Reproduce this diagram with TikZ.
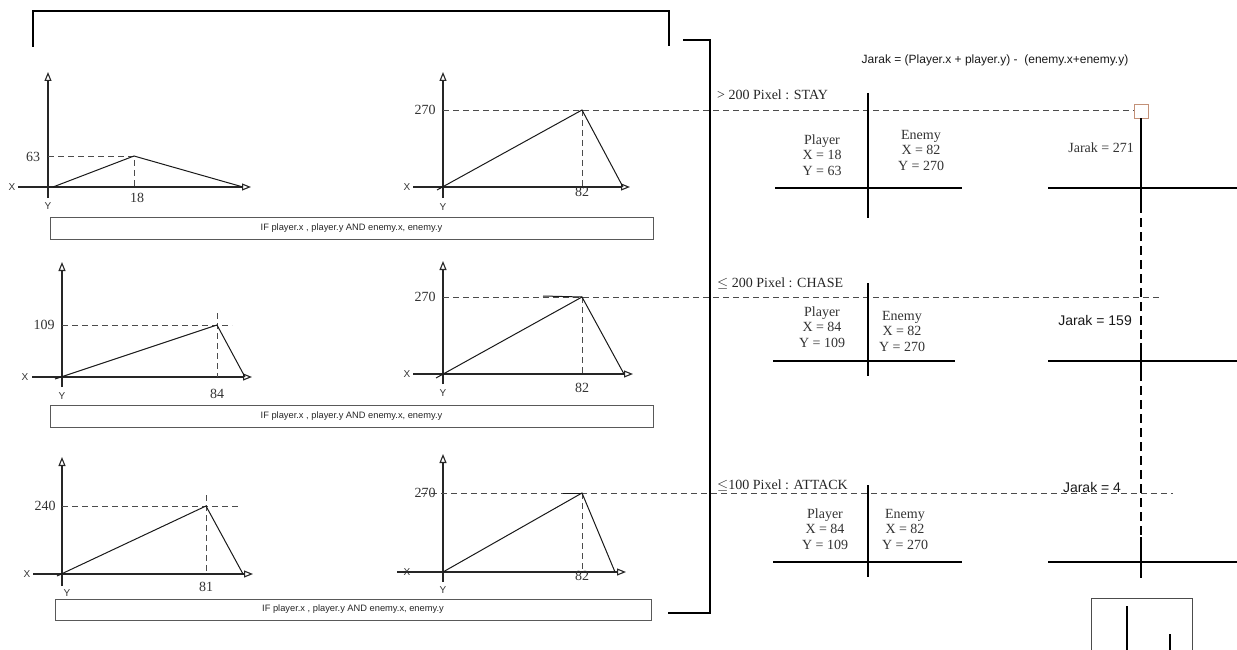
\documentclass[tikz,border=0pt]{standalone}
\usepackage{fontspec}
\setmainfont{Liberation Serif}
\setsansfont{Liberation Sans}
\usetikzlibrary{arrows.meta}
\definecolor{boxedge}{RGB}{195,145,120}
\begin{document}
\begin{tikzpicture}[x=1pt, y=-1pt,
    axis/.style={draw=black!85, line width=1.1pt, -{Triangle[open, length=9pt, width=7pt]}},
    guide/.style={draw=black!70, line width=0.9pt, dash pattern=on 6pt off 4pt},
    plot/.style={draw=black!90, line width=1pt},
    bracket/.style={draw=black, line width=1.8pt},
    tcross/.style={draw=black, line width=2pt},
    axlbl/.style={text=black!80, font=\sffamily\fontsize{10}{11}\selectfont, inner sep=0pt},
    numlbl/.style={text=black!80, font=\fontsize{14}{15}\selectfont, inner sep=0pt},
    condbox/.style={draw=black!65, line width=0.8pt, minimum height=22pt, inner sep=0pt,
        text=black!85, font=\sffamily\fontsize{9.3}{11}\selectfont},
    vals/.style={text=black!80, align=center, inner sep=0pt, font=\fontsize{14}{15.5}\selectfont},
    cond/.style={text=black!85, anchor=west, inner sep=0pt, font=\fontsize{14}{16}\selectfont},
    jarak/.style={text=black!90, inner sep=0pt, font=\sffamily\fontsize{14}{16}\selectfont}]
\useasboundingbox (0,0) rectangle (1237,650);

% brackets
\draw[bracket] (33,47) -- (33,11) -- (669,11) -- (669,46);
\draw[bracket] (683,40) -- (710,40) -- (710,613) -- (668,613);

% graph 1: player (18,63)
\coordinate (g1o) at (48,187);
\coordinate (g1p) at (134,156);
\draw[axis] (48,198) -- (48,72);
\draw[axis] (18,187) -- (251,187);
\draw[guide] (g1o |- g1p) -- (g1p) -- (g1p |- g1o);
\draw[plot] (53,187) -- (g1p) -- (243,187);
\node[axlbl] (g1x) at (12,187) {X};
\node[axlbl] (g1y) at (48,206) {Y};
\node[numlbl] (g1v) at (33,157) {63};
\node[numlbl] (g1h) at (137,198) {18};

% graph 2: enemy (82,270)
\coordinate (g2o) at (443,187);
\coordinate (g2p) at (582,110);
\coordinate (stay) at (1134,110);
\draw[axis] (443,198) -- (443,72);
\draw[axis] (413,187) -- (630,187);
\draw[guide] (g2o |- g2p) -- (stay);
\draw[guide] (g2p) -- (g2p |- g2o);
\draw[plot] (437,190) -- (g2p) -- (623,187);
\node[axlbl] (g2x) at (407,187) {X};
\node[axlbl] (g2y) at (443,207) {Y};
\node[numlbl] (g2v) at (425,110) {270};
\node[numlbl] (g2h) at (582,192) {82};

\node[condbox, minimum width=603pt] (if1) at (351.5,228) {IF player.x , player.y AND enemy.x, enemy.y};

% graph 3: player (84,109)
\coordinate (g3o) at (62,377);
\coordinate (g3p) at (217,325);
\draw[axis] (62,387) -- (62,262);
\draw[axis] (32,377) -- (252,377);
\draw[guide] (g3o |- g3p) -- (232,325);
\draw[guide] (217,313) -- (g3p |- g3o);
\draw[plot] (55,379) -- (g3p) -- (245,377);
\node[axlbl] (g3x) at (25,377) {X};
\node[axlbl] (g3y) at (62,396) {Y};
\node[numlbl] (g3v) at (44,325) {109};
\node[numlbl] (g3h) at (217,394) {84};

% graph 4: enemy (82,270)
\coordinate (g4o) at (443,374);
\coordinate (g4p) at (582,297);
\coordinate (chase) at (1160,297);
\draw[axis] (443,384) -- (443,261);
\draw[axis] (413,374) -- (633,374);
\draw[guide] (g4o |- g4p) -- (chase);
\draw[guide] (g4p) -- (g4p |- g4o);
\draw[plot] (543,296) -- (g4p);
\draw[plot] (436,378) -- (g4p) -- (624,374);
\node[axlbl] (g4x) at (407,374) {X};
\node[axlbl] (g4y) at (443,393) {Y};
\node[numlbl] (g4v) at (425,297) {270};
\node[numlbl] (g4h) at (582,388) {82};

\node[condbox, minimum width=603pt] (if2) at (351.5,416.5) {IF player.x , player.y AND enemy.x, enemy.y};

% graph 5: player (81,240)
\coordinate (g5o) at (62,574);
\coordinate (g5p) at (206,506);
\draw[axis] (62,586) -- (62,457);
\draw[axis] (33,574) -- (253,574);
\draw[guide] (g5o |- g5p) -- (238,506);
\draw[guide] (206,495) -- (g5p |- g5o);
\draw[plot] (57,576) -- (g5p) -- (243,574);
\node[axlbl] (g5x) at (27,574) {X};
\node[axlbl] (g5y) at (67,593) {Y};
\node[numlbl] (g5v) at (45,506) {240};
\node[numlbl] (g5h) at (206,587) {81};

% graph 6: enemy (82,270)
\coordinate (g6o) at (443,572);
\coordinate (g6p) at (582,493);
\coordinate (attack) at (1173,493);
\draw[axis] (443,582) -- (443,454);
\draw[axis] (397,572) -- (626,572);
\draw[guide] (421,493) -- (attack);
\draw[guide] (g6p) -- (g6p |- g6o);
\draw[plot] (563,493) -- (g6p);
\draw[plot] (g6o) -- (g6p) -- (615,572);
\node[axlbl] (g6x) at (407,572) {X};
\node[axlbl] (g6y) at (443,590) {Y};
\node[numlbl] (g6v) at (425,493) {270};
\node[numlbl] (g6h) at (582,576) {82};

\node[condbox, minimum width=596pt, minimum height=21pt] (if3) at (353,609.5) {IF player.x , player.y AND enemy.x, enemy.y};

% right side
\node[text=black!90, inner sep=0pt, font=\sffamily\fontsize{12}{14}\selectfont] (formula) at (995,60)
    {Jarak = (Player.x + player.y) -\ \ (enemy.x+enemy.y)};

\node[cond] (c1) at (717,95) {> 200 Pixel : STAY};
\draw[tcross] (868,93) -- (868,218);
\draw[tcross] (775,188) -- (962,188);
\node[vals] (p1) at (822,155) {Player\\X = 18\\Y = 63};
\node[vals] (e1) at (921,150) {Enemy\\X = 82\\Y = 270};

\node[cond] (c2) at (717,284) {$\leq$ 200 Pixel : CHASE};
\draw[tcross] (868,283) -- (868,376);
\draw[tcross] (773,361) -- (955,361);
\node[vals] (p2) at (822,327) {Player\\X = 84\\Y = 109};
\node[vals] (e2) at (902,331) {Enemy\\X = 82\\Y = 270};

\node[cond] (c3) at (717,486) {$\leq$100 Pixel : ATTACK};
\draw[tcross] (868,485) -- (868,577);
\draw[tcross] (773,562) -- (962,562);
\node[vals] (p3) at (825,529) {Player\\X = 84\\Y = 109};
\node[vals] (e3) at (905,529) {Enemy\\X = 82\\Y = 270};

% distance line
\node[draw=boxedge, fill=white, line width=0.8pt, minimum size=14pt, inner sep=0pt] (sq) at (1141,111) {};
\coordinate (m1) at (1141,204);
\coordinate (m2) at (1141,343);
\coordinate (m3) at (1141,378);
\coordinate (m4) at (1141,537);
\coordinate (m5) at (1141,578);
\draw[tcross] (1048,188) -- (1237,188);
\draw[tcross] (1048,361) -- (1237,361);
\draw[tcross] (1048,562) -- (1237,562);
\draw[draw=black, line width=2.6pt] (sq.south) -- (m1);
\draw[draw=black, line width=1.8pt, dash pattern=on 9pt off 5pt] (m1) -- (m4);
\draw[draw=black, line width=2.6pt] (m2) -- (m3);
\draw[draw=black, line width=2.6pt] (m4) -- (m5);
\node[vals, anchor=east] (j1) at (1134,148) {Jarak = 271};
\node[jarak, anchor=east] (j2) at (1132,320) {Jarak = 159};
\node[jarak] (j3) at (1092,487) {Jarak = 4};

% small box bottom right
\draw[draw=black!70, line width=1pt] (1091,650) -- (1091,598) -- (1192,598) -- (1192,650);
\draw[draw=black, line width=2pt] (1127,606) -- (1127,650);
\draw[draw=black, line width=2pt] (1170,634) -- (1170,650);
\end{tikzpicture}
\end{document}
